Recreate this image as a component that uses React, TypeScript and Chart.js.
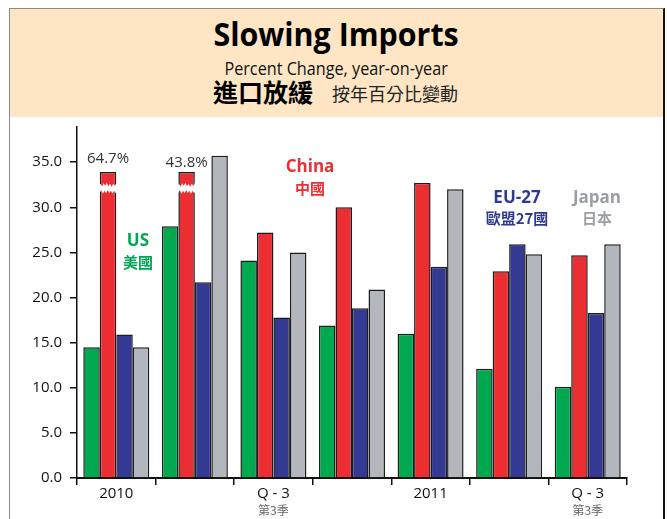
import React, { useEffect, useRef } from "react";
import { Chart, registerables } from "chart.js";

Chart.register(...registerables);

// ---------- data ----------
const categories = ["2010", "", "Q - 3", "", "2011", "", "Q - 3"];
const subLabels = ["", "", "第3季", "", "", "", "第3季"];
const usValues = [14.5, 27.9, 24.1, 16.9, 16.0, 12.1, 10.1];
const chinaValues = [64.7, 43.8, 27.2, 30.0, 32.7, 22.9, 24.7];
const euValues = [15.9, 21.7, 17.8, 18.8, 23.4, 25.9, 18.3];
const japanValues = [14.5, 35.7, 25.0, 20.9, 32.0, 24.8, 25.9];
const yTicks = [0, 5, 10, 15, 20, 25, 30, 35];
const seriesNames = ["US", "China", "EU-27", "Japan"];
const seriesNamesZh = ["美國", "中國", "歐盟27國", "日本"];
const BREAK_CAP = 33.9; // bars above this value are drawn truncated
const BREAK_AT = 32.1; // where the torn break is drawn
const Y_MAX = 38.9;

// ---------- styles ----------
const COLORS = ["#00A94F", "#EC2D32", "#343A94", "#B2B7BE"];
const TEXT_COLORS = ["#00A651", "#EC2D32", "#2E3A8F", "#9B9EA3"];
// label anchors (category units, value units) for series names
const NAME_POS = [
  { x: 0.276, y: 26.2, yz: 23.9 },
  { x: 2.466, y: 34.4, yz: 32.1 },
  { x: 5.1, y: 31.0, yz: 28.8 },
  { x: 6.118, y: 31.0, yz: 28.8 },
];
const BREAK_LABEL_OFFSET = [13, 9];
const SANS = "'Open Sans', 'Noto Sans', sans-serif";
const CJK = "'Noto Sans CJK TC', 'Noto Sans CJK SC', sans-serif";

const JAG = [1.5, -1, 2, -1.5, 1, -2, 1.5, -1, 2, -1.2, 1.2, -1.8];

function drawBreak(ctx: CanvasRenderingContext2D, x0: number, x1: number, yc: number, h: number) {
  ctx.save();
  ctx.beginPath();
  let i = 0;
  ctx.moveTo(x0, yc - h / 2);
  for (let x = x0; x <= x1; x += 1.6) {
    ctx.lineTo(x, yc - h / 2 + JAG[i % JAG.length]);
    i++;
  }
  ctx.lineTo(x1, yc - h / 2);
  ctx.lineTo(x1, yc + h / 2);
  for (let x = x1; x >= x0; x -= 1.6) {
    ctx.lineTo(x, yc + h / 2 + JAG[(i + 5) % JAG.length]);
    i++;
  }
  ctx.lineTo(x0, yc + h / 2);
  ctx.closePath();
  ctx.fillStyle = "#ffffff";
  ctx.fill();
  ctx.restore();
}

const annotPlugin = {
  id: "annot",
  afterDatasetsDraw(chart: any) {
    const ctx: CanvasRenderingContext2D = chart.ctx;
    const xs = chart.scales.x;
    const ys = chart.scales.y;
    const meta = chart.getDatasetMeta(1);
    // breaks + true values
    chinaValues.forEach((v, i) => {
      if (v <= BREAK_CAP) return;
      const bar = meta.data[i] as any;
      const half = bar.width / 2;
      drawBreak(ctx, bar.x - half - 1, bar.x + half + 1, ys.getPixelForValue(BREAK_AT), 7);
      ctx.save();
      ctx.font = `400 15px ${SANS}`;
      ctx.fillStyle = "#333";
      ctx.textAlign = "center";
      ctx.textBaseline = "middle";
      ctx.fillText(v.toFixed(1) + "%", bar.x, bar.y - (BREAK_LABEL_OFFSET[i] ?? 11));
      ctx.restore();
    });
    // series names
    seriesNames.forEach((name, k) => {
      const p = NAME_POS[k];
      const x = xs.getPixelForValue(0) + p.x * (xs.getPixelForValue(1) - xs.getPixelForValue(0));
      ctx.save();
      ctx.fillStyle = TEXT_COLORS[k];
      ctx.textAlign = "center";
      ctx.textBaseline = "middle";
      ctx.font = `700 17px ${SANS}`;
      ctx.fillText(name, x, ys.getPixelForValue(p.y));
      ctx.font = `700 15px ${CJK}`;
      ctx.fillText(seriesNamesZh[k], x, ys.getPixelForValue(p.yz));
      ctx.restore();
    });
  },
  afterDraw(chart: any) {
    const ctx: CanvasRenderingContext2D = chart.ctx;
    const xs = chart.scales.x;
    ctx.save();
    ctx.font = `400 12px ${CJK}`;
    ctx.fillStyle = "#666";
    ctx.textAlign = "center";
    ctx.textBaseline = "middle";
    subLabels.forEach((s, i) => {
      if (s) ctx.fillText(s, xs.getPixelForValue(i), chart.chartArea.bottom + 32);
    });
    ctx.restore();
  },
};

export default function App() {
  const ref = useRef<HTMLCanvasElement>(null);
  useEffect(() => {
    const canvas = ref.current;
    if (!canvas) return;
    const series = [usValues, chinaValues.map((v) => Math.min(v, BREAK_CAP)), euValues, japanValues];
    const chart = new Chart(canvas, {
      type: "bar",
      data: {
        labels: categories,
        datasets: series.map((d, k) => ({
          label: seriesNames[k],
          data: d,
          backgroundColor: COLORS[k],
          borderColor: "#1c1c1c",
          borderWidth: 1.5,
          categoryPercentage: 0.84,
          barPercentage: 1,
        })),
      },
      options: {
        responsive: false,
        animation: false,
        maintainAspectRatio: false,
        layout: { padding: { left: 0, right: 36, top: 9, bottom: 0 } },
        plugins: { legend: { display: false }, tooltip: { enabled: false } },
        scales: {
          x: {
            offset: true,
            grid: { offset: true, drawOnChartArea: false, drawTicks: true, tickLength: 7, color: "#111", lineWidth: 1.5 },
            border: { display: true, color: "#111", width: 2 },
            ticks: { font: { family: SANS, size: 15 }, color: "#111", padding: 0, maxRotation: 0, autoSkip: false },
            afterFit: (s: any) => { s.height = 41; s.paddingLeft = 0; s.paddingRight = 0; },
          },
          y: {
            min: 0,
            max: Y_MAX,
            afterBuildTicks: (s: any) => { s.ticks = yTicks.map((v) => ({ value: v })); },
            grid: { drawOnChartArea: false, tickLength: 7, color: "#111", lineWidth: 1.5 },
            border: { display: true, color: "#111", width: 1.5 },
            ticks: {
              font: { family: SANS, size: 15 },
              color: "#111",
              padding: 8,
              callback: (v: any) => Number(v).toFixed(1),
            },
            afterFit: (s: any) => { s.width = 67; s.paddingTop = 0; s.paddingBottom = 0; },
          },
        },
      } as any,
      plugins: [annotPlugin],
    });
    return () => chart.destroy();
  }, []);

  return (
    <div style={{ position: "fixed", left: 0, top: 0, width: 667, height: 519, background: "#fff", overflow: "hidden" }}>
      <div
        style={{
          position: "absolute",
          left: 9,
          top: 8,
          width: 653,
          height: 520,
          borderLeft: "1px solid #8a8a8a",
          borderTop: "1px solid #8a8a8a",
          borderRight: "2px solid #111",
        }}
      />
      <div style={{ position: "absolute", left: 10, top: 9, width: 653, height: 108, background: "#FEE6C5" }}>
        <div
          style={{
            position: "absolute", left: 0, top: 8.6, width: 653, textAlign: "center",
            fontFamily: SANS, fontWeight: 700, fontSize: 32, lineHeight: "32px", color: "#000",
          }}
        >
          <span style={{ display: "inline-block", transform: "scaleX(0.95)" }}>Slowing Imports</span>
        </div>
        <div
          style={{
            position: "absolute", left: 0, top: 50, width: 653, textAlign: "center",
            fontFamily: SANS, fontWeight: 400, fontSize: 18, lineHeight: "18px", color: "#111",
          }}
        >
          <span style={{ display: "inline-block", transform: "scaleX(0.9)" }}>Percent Change, year-on-year</span>
        </div>
        <div
          style={{
            position: "absolute", left: 203, top: 70, whiteSpace: "nowrap",
            fontFamily: CJK, fontWeight: 700, fontSize: 25, lineHeight: "25px", color: "#000",
          }}
        >
          進口放緩
        </div>
        <div
          style={{
            position: "absolute", left: 322, top: 75, whiteSpace: "nowrap",
            fontFamily: CJK, fontWeight: 400, fontSize: 18, lineHeight: "18px", color: "#222",
          }}
        >
          按年百分比變動
        </div>
      </div>
      <canvas ref={ref} width={653} height={401} style={{ position: "absolute", left: 10, top: 118, width: 653, height: 401 }} />
    </div>
  );
}
